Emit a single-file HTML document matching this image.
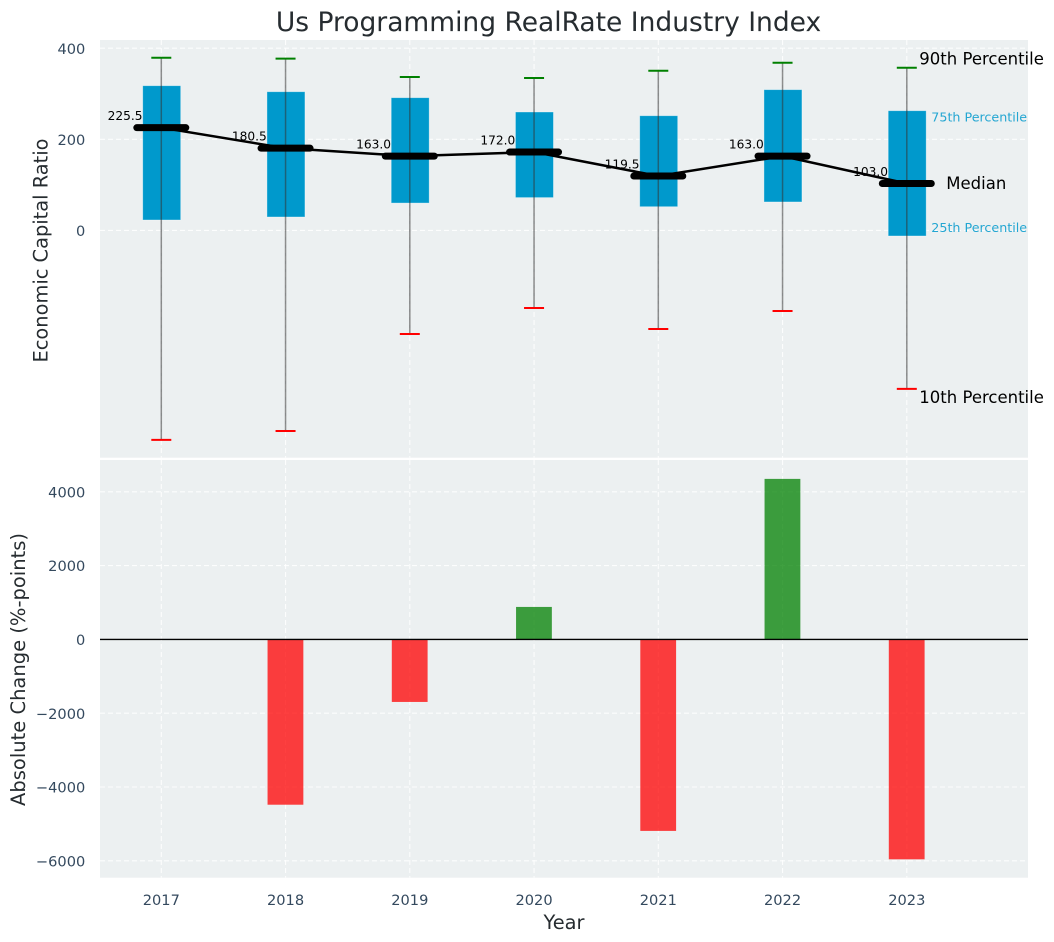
<!DOCTYPE html>
<html lang="en">
<head>
<meta charset="utf-8">
<title>Us Programming RealRate Industry Index</title>
<style>
html,body{margin:0;padding:0;background:#fff;}
svg{display:block;font-family:"DejaVu Sans","Liberation Sans",sans-serif;}
</style>
</head>
<body>
<svg id="chart" width="1054" height="942" viewBox="0 0 1054 942" xmlns="http://www.w3.org/2000/svg">
  <rect x="100" y="40" width="928" height="417.7" fill="#ecf0f1"/>
  <rect x="100" y="460" width="928" height="417.7" fill="#ecf0f1"/>
  <g id="grid"></g>
  <g id="bars"></g>
  <g id="boxes"></g>
  <g id="labels"></g>
  <g id="trend"></g>
  <g id="ticks"></g>
  <g id="notes"></g>
  <text x="548.5" y="31" text-anchor="middle" font-size="26.5" fill="#262c30">Us Programming RealRate Industry Index</text>
  <text transform="translate(47.3,250.5) rotate(-90)" text-anchor="middle" font-size="19.4" fill="#262c30">Economic Capital Ratio</text>
  <text transform="translate(24.8,669.5) rotate(-90)" text-anchor="middle" font-size="19.5" fill="#262c30">Absolute Change (%-points)</text>
  <text x="564" y="929" text-anchor="middle" font-size="19.4" fill="#262c30">Year</text>
</svg>
<script>
const years = [2017, 2018, 2019, 2020, 2021, 2022, 2023];
const p90 = [379, 377, 336.8, 334.6, 350.6, 368, 357];
const p75 = [317.7, 304.5, 291.4, 260, 251.8, 309, 262.8];
const medians = [225.5, 180.5, 163.0, 172.0, 119.5, 163.0, 103.0];
const p25 = [22.8, 29.4, 60, 72, 52, 62.4, -12.3];
const p10 = [-460, -440.4, -227.4, -170.4, -216.5, -177, -348];
const changes = [null, -4480, -1695, 880, -5190, 4350, -5960];
const topTicks = [0, 200, 400];
const bottomTicks = [-6000, -4000, -2000, 0, 2000, 4000];

const NS = 'http://www.w3.org/2000/svg';
const xScale = year => 161.3 + (year - 2017) * 124.25;
const yTop = v => 230.4 - 0.4555 * v;
const yBottom = v => 639.4 - 0.0369 * v;
const LEFT = 100, RIGHT = 1028;
const TOP1 = 40, BOTTOM1 = 457.7, TOP2 = 460, BOTTOM2 = 877.7;

function make(parentId, tag, attrs, content) {
  const el = document.createElementNS(NS, tag);
  for (const key in attrs) el.setAttribute(key, attrs[key]);
  if (content !== undefined) el.textContent = content;
  document.getElementById(parentId).appendChild(el);
  return el;
}
const gridStyle = {stroke: '#ffffff', 'stroke-width': 1.1, 'stroke-dasharray': '5 3', 'stroke-opacity': 0.85};

topTicks.forEach(t => {
  const line = make('grid', 'line', Object.assign({x1: LEFT, x2: RIGHT, y1: yTop(t), y2: yTop(t)}, gridStyle));
  
  
  const label = make('ticks', 'text', {x: 85.3, y: yTop(t) + 5.6, 'text-anchor': 'end', 'font-size': 14.6, fill: '#34495e'}, String(t));
  
  
});
bottomTicks.forEach(t => {
  const line = make('grid', 'line', Object.assign({x1: LEFT, x2: RIGHT, y1: yBottom(t), y2: yBottom(t)}, gridStyle));
  
  
  const label = make('ticks', 'text', {x: 85.3, y: yBottom(t) + 5.6, 'text-anchor': 'end', 'font-size': 14.6, fill: '#34495e'}, String(t).replace('-', '\u2212'));
  
  
});
years.forEach(year => {
  const x = xScale(year);
  const upper = make('grid', 'line', Object.assign({x1: x, x2: x, y1: TOP1, y2: BOTTOM1}, gridStyle));
  
  
  const lower = make('grid', 'line', Object.assign({x1: x, x2: x, y1: TOP2, y2: BOTTOM2}, gridStyle));
  
  
  const label = make('ticks', 'text', {x: x, y: 905, 'text-anchor': 'middle', 'font-size': 14.6, fill: '#34495e'}, String(year));
  
  
});

// change bars
changes.forEach((value, i) => {
  if (value === null) return;
  const x = xScale(years[i]);
  const y0 = yBottom(0), y1 = yBottom(value);
  const bar = make('bars', 'rect', {
    x: x - 18, width: 35.8, y: Math.min(y0, y1), height: Math.abs(y1 - y0),
    fill: value < 0 ? '#ff0000' : '#008000', 'fill-opacity': 0.75
  });
  
  
});
const zero = make('bars', 'line', {x1: LEFT, x2: RIGHT, y1: yBottom(0), y2: yBottom(0), stroke: '#000', 'stroke-width': 1.4});



// boxes and whiskers
years.forEach((year, i) => {
  const x = xScale(year);
  const box = make('boxes', 'rect', {
    x: x - 18.6, width: 38, y: yTop(p75[i]), height: yTop(p25[i]) - yTop(p75[i]),
    fill: '#0099cc', stroke: '#ffffff', 'stroke-opacity': 0.45, 'stroke-width': 0.8
  });
  
  
  const whisker = make('boxes', 'line', {x1: x, x2: x, y1: yTop(p90[i]), y2: yTop(p10[i]), stroke: '#333', 'stroke-opacity': 0.55, 'stroke-width': 1.5});
  
  
  const capHigh = make('boxes', 'line', {x1: x - 10, x2: x + 10, y1: yTop(p90[i]), y2: yTop(p90[i]), stroke: '#008000', 'stroke-width': 2});
  
  
  const capLow = make('boxes', 'line', {x1: x - 10, x2: x + 10, y1: yTop(p10[i]), y2: yTop(p10[i]), stroke: '#ff0000', 'stroke-width': 2});
  
  
  const label = make('labels', 'text', {x: x - 18.8, y: yTop(medians[i]) - 7.6, 'text-anchor': 'end', 'font-size': 12.2, fill: '#000'}, medians[i].toFixed(1));
  
  
});

// median trend and thick median marks
const trendPoints = years.map((year, i) => xScale(year) + ',' + yTop(medians[i])).join(' ');
const trend = make('trend', 'polyline', {points: trendPoints, fill: 'none', stroke: '#000', 'stroke-width': 2.5});


years.forEach((year, i) => {
  const x = xScale(year), y = yTop(medians[i]);
  const mark = make('trend', 'line', {x1: x - 24.5, x2: x + 24.5, y1: y, y2: y, stroke: '#000', 'stroke-width': 7, 'stroke-linecap': 'round'});
  
  
});

// annotations beside the last year
const last = years.length - 1;
const lastX = xScale(years[last]);
const note90 = make('notes', 'text', {x: lastX + 12.5, y: yTop(p90[last]) - 3.5, 'font-size': 16.5, fill: '#000'}, '90th Percentile');


const note75 = make('notes', 'text', {x: lastX + 24.5, y: yTop(p75[last]) + 11, 'font-size': 12.7, fill: '#0099cc', 'fill-opacity': 0.85}, '75th Percentile');


const noteMed = make('notes', 'text', {x: lastX + 39.5, y: yTop(medians[last]) + 5.5, 'font-size': 16.5, fill: '#000'}, 'Median');


const note25 = make('notes', 'text', {x: lastX + 24.5, y: yTop(p25[last]) - 4, 'font-size': 12.7, fill: '#0099cc', 'fill-opacity': 0.85}, '25th Percentile');


const note10 = make('notes', 'text', {x: lastX + 12.5, y: yTop(p10[last]) + 14, 'font-size': 16.5, fill: '#000'}, '10th Percentile');


</script>
</body>
</html>
